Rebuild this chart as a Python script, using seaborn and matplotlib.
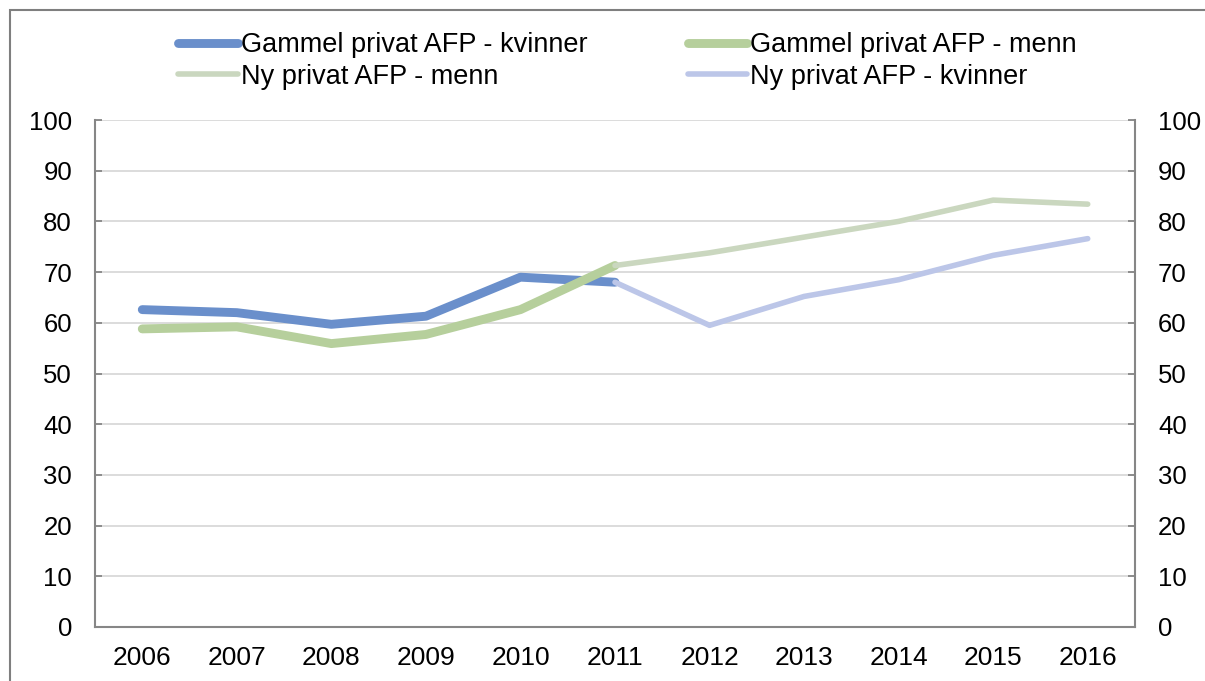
import matplotlib
matplotlib.use('Agg')
import matplotlib.pyplot as plt
from matplotlib.patches import Rectangle
import seaborn as sns
import numpy as np
import pandas as pd

# Data
years = [2006, 2007, 2008, 2009, 2010, 2011, 2012, 2013, 2014, 2015, 2016]
gammel_kvinner = [62.6, 62.0, 59.7, 61.3, 69.0, 68.0, np.nan, np.nan, np.nan, np.nan, np.nan]
gammel_menn = [58.8, 59.2, 55.9, 57.7, 62.6, 71.3, np.nan, np.nan, np.nan, np.nan, np.nan]
ny_menn = [np.nan, np.nan, np.nan, np.nan, np.nan, 71.3, 73.8, 76.9, 80.0, 84.2, 83.4]
ny_kvinner = [np.nan, np.nan, np.nan, np.nan, np.nan, 68.0, 59.5, 65.2, 68.5, 73.3, 76.6]

df = pd.DataFrame({
    'Year': years,
    'Gammel privat AFP - kvinner': gammel_kvinner,
    'Gammel privat AFP - menn': gammel_menn,
    'Ny privat AFP - menn': ny_menn,
    'Ny privat AFP - kvinner': ny_kvinner,
})

sns.set_style("white")
plt.rcParams['font.family'] = ['Liberation Sans', 'DejaVu Sans']
plt.rcParams['text.color'] = 'black'

fig = plt.figure(figsize=(12.05, 6.81), dpi=100)
ax = fig.add_axes([95 / 1205, 54 / 681, 1040 / 1205, 507 / 681])

styles = {
    'Gammel privat AFP - kvinner': ('#6A8FCB', 6.4),
    'Gammel privat AFP - menn': ('#B6CF9C', 6.4),
    'Ny privat AFP - menn': ('#CAD7BF', 4.0),
    'Ny privat AFP - kvinner': ('#BCC6E8', 4.0),
}
for name, (col, lw) in styles.items():
    sns.lineplot(data=df, x='Year', y=name, color=col, linewidth=lw,
                 solid_capstyle='round', label=name, ax=ax)

ax.set_xlim(2005.5, 2016.5)
ax.set_ylim(0, 100)
ax.set_yticks(range(0, 101, 10))
ax.set_xticks(years)
ax.set_xticks([y + 0.5 for y in years[:-1]], minor=True)
ax.set_xlabel('')
ax.set_ylabel('')
ax.grid(axis='y', color='#D9D9D9', linewidth=1.3)
ax.set_axisbelow(True)

for s in ['left', 'right', 'bottom']:
    ax.spines[s].set_visible(True)
    ax.spines[s].set_color('#868686')
    ax.spines[s].set_linewidth(1.5)
ax.spines['top'].set_visible(False)

ax.tick_params(axis='x', which='major', length=0, pad=14, labelsize=19, labelcolor='black')
ax.tick_params(axis='x', which='minor', direction='in', length=5, width=1.3, color='#868686')
ax.tick_params(axis='y', direction='in', length=5, width=1.3, color='#868686',
               pad=16.5, labelsize=18.5, labelcolor='black',
               left=True, right=True, labelleft=True, labelright=True)

handles, labels = ax.get_legend_handles_labels()
order = [0, 2, 1, 3]
ax.legend([handles[i] for i in order], [labels[i] for i in order],
          loc='upper center', bbox_to_anchor=(0.512, 1.221), ncol=2, frameon=False,
          fontsize=19.5, handlelength=2.2, handletextpad=0.1, columnspacing=3.7,
          labelspacing=0.2)

# outer chart border
fig.patches.append(Rectangle((10 / 1205, -0.1), 1.2, 1.1 - 10 / 681, transform=fig.transFigure,
                             fill=False, edgecolor='#7F7F7F', linewidth=1.5))

fig.savefig('out.png', dpi=100)
